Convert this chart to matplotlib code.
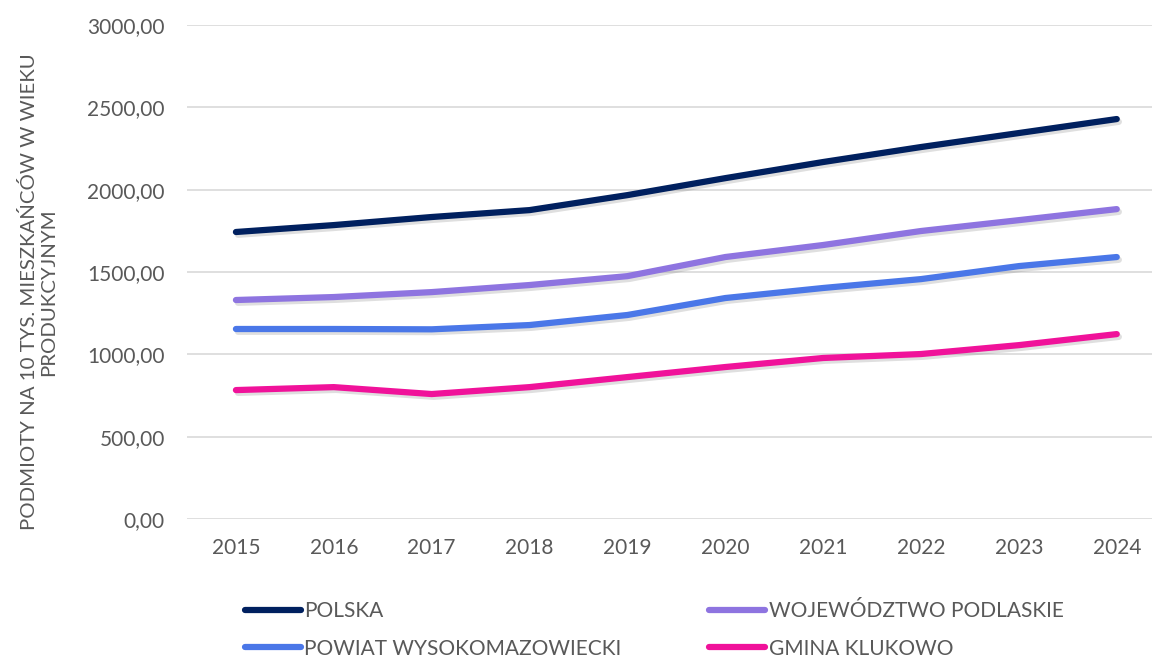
import matplotlib.pyplot as plt
import matplotlib.patheffects as pe
from matplotlib.lines import Line2D

plt.rcParams['font.family'] = ['Lato', 'DejaVu Sans']

# ---- data ----
years = [2015, 2016, 2017, 2018, 2019, 2020, 2021, 2022, 2023, 2024]
polska = [1743, 1785, 1834, 1876, 1967, 2070, 2168, 2259, 2344, 2429]
podlaskie = [1330, 1348, 1378, 1421, 1475, 1591, 1664, 1749, 1815, 1882]
powiat = [1154, 1154, 1152, 1178, 1239, 1342, 1403, 1457, 1536, 1591]
klukowo = [783, 801, 759, 801, 862, 923, 978, 1002, 1056, 1123]
yticks = [0, 500, 1000, 1500, 2000, 2500, 3000]

series = [
    ("POLSKA", polska, "#00205f"),
    ("WOJEWÓDZTWO PODLASKIE", podlaskie, "#8e74e0"),
    ("POWIAT WYSOKOMAZOWIECKI", powiat, "#4a77e8"),
    ("GMINA KLUKOWO", klukowo, "#f0129a"),
]

fig = plt.figure(figsize=(11.55, 6.6), dpi=100)
ax = fig.add_axes([0.1619, 0.2136, 0.8355, 0.7485])

xs = list(range(len(years)))
shadow = [pe.SimpleLineShadow(offset=(1.5, -2), shadow_color="gray", alpha=0.25), pe.Normal()]
handles = {}
for name, vals, col in series:
    ax.plot(xs, vals, color=col, linewidth=4.5, solid_capstyle="round",
            solid_joinstyle="round", path_effects=shadow, zorder=3)
    handles[name] = Line2D([0], [0], color=col, linewidth=4.5, solid_capstyle="round")

ax.set_xlim(-0.5, 9.36)
ax.set_ylim(0, 3000)
ax.set_yticks(yticks)
ax.set_yticklabels([f"{v:.2f}".replace(".", ",") for v in yticks])
ax.set_xticks(xs)
ax.set_xticklabels([str(y) for y in years])
ax.tick_params(axis="both", length=0, labelsize=15, colors="#595959")
ax.tick_params(axis="y", pad=16)
ax.tick_params(axis="x", pad=14)
ax.grid(axis="y", color="#d9d9d9", linewidth=1.2)
ax.set_axisbelow(True)
for s in ax.spines.values():
    s.set_visible(False)

ax.set_ylabel("PODMIOTY NA 10 TYS. MIESZKAŃCÓW W WIEKU\nPRODUKCYJNYM",
              fontsize=14.7, color="#595959", linespacing=1.15)
ax.yaxis.set_label_coords(-0.135, 0.46)

order = ["POLSKA", "POWIAT WYSOKOMAZOWIECKI", "WOJEWÓDZTWO PODLASKIE", "GMINA KLUKOWO"]
fig.legend([handles[n] for n in order], order, ncol=2, frameon=False,
           loc="upper left", bbox_to_anchor=(0.205, 0.102), fontsize=15,
           labelcolor="#595959", handlelength=2.7, handletextpad=0.15,
           columnspacing=4.2, labelspacing=0.84, borderaxespad=0)

fig.savefig("out.png", dpi=100)
